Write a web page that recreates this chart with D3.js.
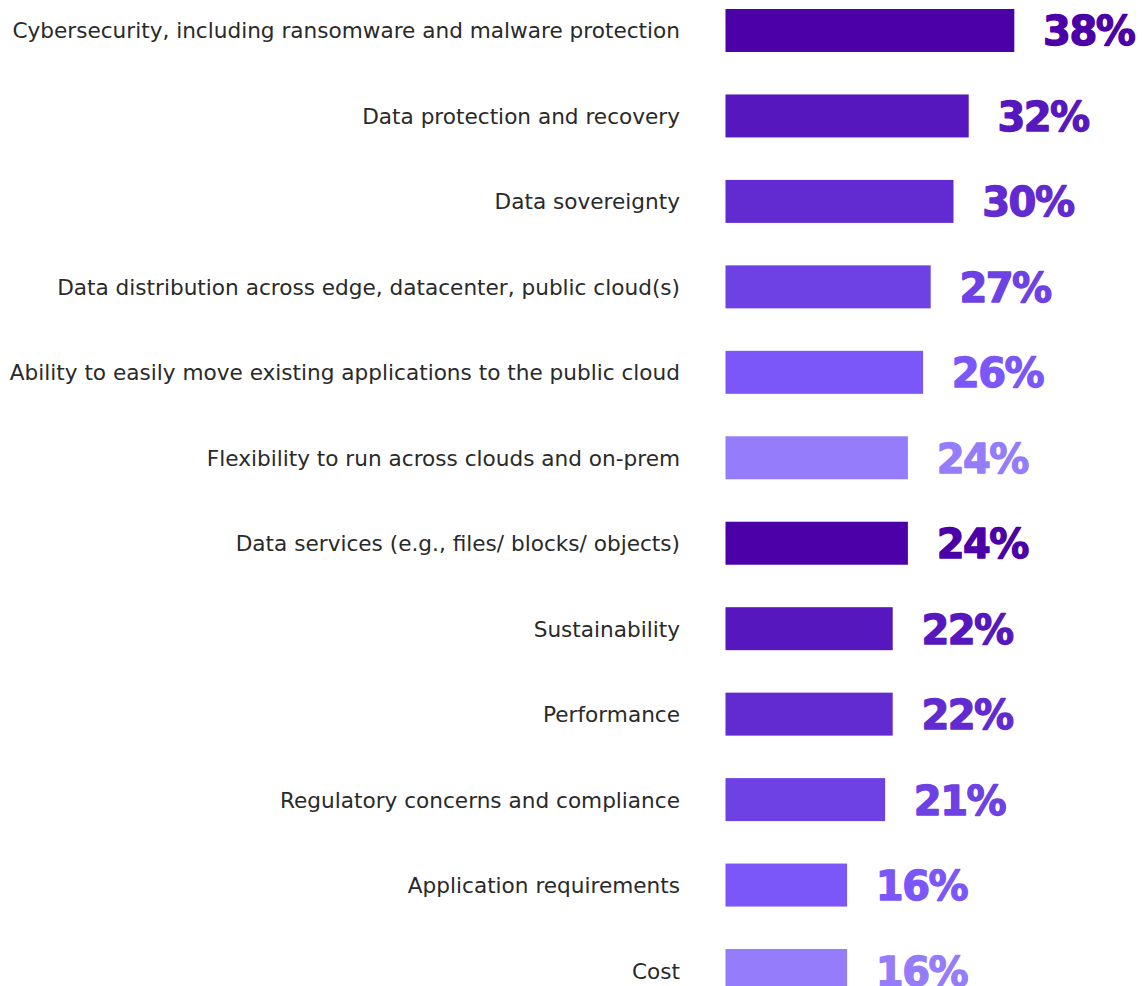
<!DOCTYPE html>
<html>
<head>
<meta charset="utf-8">
<script src="https://cdn.jsdelivr.net/npm/d3@7"></script>
<style>
  html, body { margin: 0; padding: 0; background: #ffffff; }
  svg { display: block; }
</style>
</head>
<body>
<svg id="chart" width="1142" height="986"></svg>
<script>
const categories = [
  "Cybersecurity, including ransomware and malware protection",
  "Data protection and recovery",
  "Data sovereignty",
  "Data distribution across edge, datacenter, public cloud(s)",
  "Ability to easily move existing applications to the public cloud",
  "Flexibility to run across clouds and on-prem",
  "Data services (e.g., files/ blocks/ objects)",
  "Sustainability",
  "Performance",
  "Regulatory concerns and compliance",
  "Application requirements",
  "Cost"
];
const values = [38, 32, 30, 27, 26, 24, 24, 22, 22, 21, 16, 16];
const valueLabels = ["38%", "32%", "30%", "27%", "26%", "24%", "24%", "22%", "22%", "21%", "16%", "16%"];

const palette = ["#4B00A8", "#5617BE", "#622BD1", "#6D41E3", "#7B57FA", "#957CFB"];

const svg = d3.select("#chart");

const x = d3.scaleLinear().domain([0, 100]).range([725.5, 725.5 + 760]);
const y = d3.scaleBand().domain(categories).range([9, 992]).paddingInner(0.497).paddingOuter(0);
const color = (i) => palette[i % palette.length];

const rows = svg.selectAll("g.row")
  .data(categories.map((c, i) => ({ c, v: values[i], lab: valueLabels[i], i })))
  .join("g")
  .attr("class", "row");

rows.append("rect")
  .attr("x", x(0))
  .attr("y", d => y(d.c))
  .attr("width", d => x(d.v) - x(0))
  .attr("height", y.bandwidth())
  .attr("fill", d => color(d.i));

const catText = rows.append("text")
  .attr("x", 680)
  .attr("y", d => y(d.c) + y.bandwidth() / 2 + 8)
  .attr("text-anchor", "end")
  .attr("fill", "#2a2a2a")
  .style("font-family", "'DejaVu Sans', sans-serif")
  .style("font-size", "20px")
  .text(d => d.c);

// fit label font size so the longest label spans like the reference (~668px)
const w0 = catText.nodes()[0].getComputedTextLength();
const fs = Math.max(14, Math.min(22, 20 * 668 / w0));
catText.style("font-size", fs + "px");

rows.append("text")
  .attr("x", d => x(d.v) + 120)
  .attr("y", d => y(d.c) + y.bandwidth() / 2 + 15)
  .attr("text-anchor", "end")
  .attr("fill", d => color(d.i))
  .attr("stroke", d => color(d.i))
  .attr("stroke-width", 1.3)
  .attr("stroke-linejoin", "round")
  .style("font-family", "'DejaVu Sans', sans-serif")
  .style("font-weight", "bold")
  .style("font-size", "40px")
  .style("letter-spacing", "-1.5px")
  .text(d => d.lab);
</script>
</body>
</html>
